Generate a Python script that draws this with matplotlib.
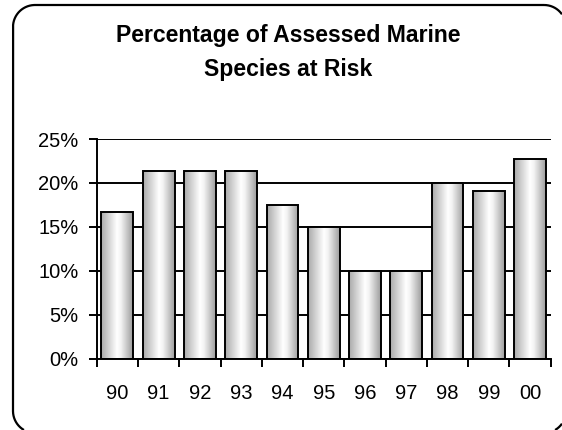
import numpy as np
import matplotlib
matplotlib.use("Agg")
import matplotlib.pyplot as plt
from matplotlib.colors import LinearSegmentedColormap
from matplotlib.ticker import FixedLocator, FuncFormatter

# Share of assessed marine species considered at risk, by year
years = ["90", "91", "92", "93", "94", "95", "96", "97", "98", "99", "00"]
pct_at_risk = [16.7, 21.4, 21.4, 21.4, 17.5, 15.0, 10.0, 10.0, 20.0, 19.1, 22.7]
y_ticks = [0, 5, 10, 15, 20, 25]

plt.rcParams["font.family"] = ["Liberation Sans", "DejaVu Sans"]

W, H = 562, 430
fig = plt.figure(figsize=(W / 100, H / 100), dpi=100)
fig.patch.set_facecolor("white")

# full-figure overlay in pixel units for the rounded frame
frame_ax = fig.add_axes([0, 0, 1, 1], zorder=0)
frame_ax.set_xlim(0, W)
frame_ax.set_ylim(H, 0)
frame_ax.axis("off")


def rounded_rect(left, top, right, bottom, r, n=200):
    pts = []
    corners = [(right - r, top + r, -90, 0), (right - r, bottom - r, 0, 90),
               (left + r, bottom - r, 90, 180), (left + r, top + r, 180, 270)]
    for cx, cy, a0, a1 in corners:
        t = np.radians(np.linspace(a0, a1, n))
        pts.extend(zip(cx + r * np.cos(t), cy + r * np.sin(t)))
    pts.append(pts[0])
    return np.array(pts, dtype=float)


# the frame runs slightly past the right and bottom edges of the canvas;
# keep only the part that lies on the canvas
fr = rounded_rect(13, 5, 566, 433, 22)
outside = (fr[:, 0] > W) | (fr[:, 1] > H)
fr[outside] = np.nan
frame_ax.plot(fr[:, 0], fr[:, 1], color="black", linewidth=1.6,
              solid_joinstyle="round", solid_capstyle="butt")

ax = fig.add_axes([0.1721, 0.1658, 0.98 - 0.1721, 0.6767 - 0.1658], zorder=1)
ax.patch.set_alpha(0)

x = np.arange(len(years))
bars = ax.bar(x, pct_at_risk, width=0.77, facecolor="none",
              edgecolor="black", linewidth=1.4, zorder=3)

# cylinder-style shading inside each bar
shade = LinearSegmentedColormap.from_list(
    "shade", [(0.0, "#a9a9a9"), (0.5, "#ffffff"), (0.62, "#f4f4f4"), (1.0, "#9c9c9c")])
grad = np.linspace(0, 1, 256).reshape(1, -1)
for b in bars:
    x0, w, h = b.get_x(), b.get_width(), b.get_height()
    im = ax.imshow(grad, cmap=shade, aspect="auto", extent=[x0, x0 + w, 0, h],
                   zorder=2, interpolation="bilinear")
    im.set_clip_path(b)

ax.set_xlim(-0.5, len(years) - 0.5)
ax.set_ylim(0, 25)

ax.yaxis.set_major_locator(FixedLocator(y_ticks))
ax.yaxis.set_major_formatter(FuncFormatter(lambda v, p: f"{v:.0f}%"))
ax.grid(axis="y", color="black", linewidth=1.4, zorder=1)
ax.set_axisbelow(True)

ax.set_xticks(x)
ax.set_xticklabels(years)
ax.set_xticks(np.arange(-0.5, len(years), 1.0), minor=True)
ax.tick_params(axis="x", which="major", length=0, labelsize=14.5, pad=18)
ax.tick_params(axis="x", which="minor", length=6, width=1.4, direction="out")
ax.tick_params(axis="y", length=6, width=1.4, direction="out",
               labelsize=14.5, pad=7)

for side in ("top", "right"):
    ax.spines[side].set_visible(False)
for side in ("left", "bottom"):
    ax.spines[side].set_linewidth(1.4)
    ax.spines[side].set_zorder(4)

fig.text(0.513, 0.877, "Percentage of Assessed Marine\nSpecies at Risk",
         ha="center", va="center", fontsize=16.6, fontweight="bold",
         linespacing=1.6)

fig.savefig("out.png", dpi=100, facecolor="white")
